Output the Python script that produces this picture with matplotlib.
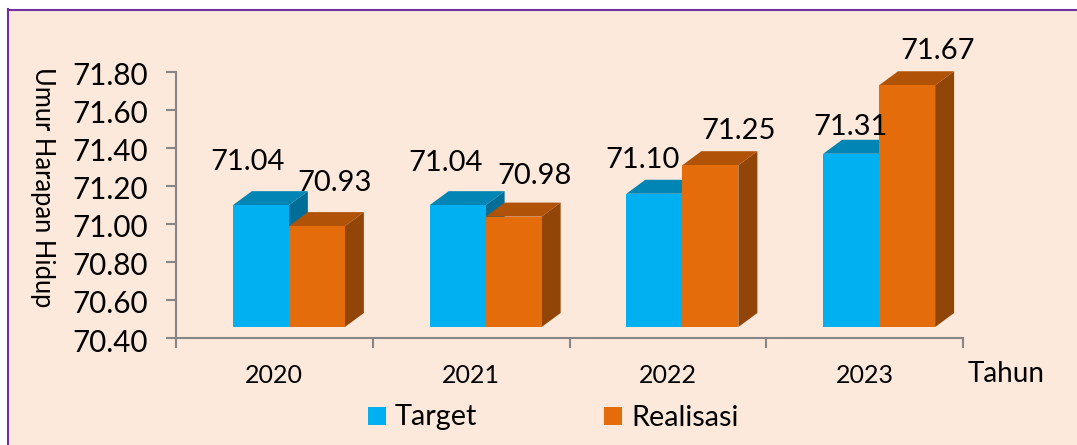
import matplotlib
matplotlib.use("Agg")
import matplotlib.pyplot as plt
from matplotlib.patches import Polygon, Rectangle
from matplotlib.transforms import ScaledTranslation
import numpy as np

# -----------------------------
# Data
# -----------------------------
years = ["2020", "2021", "2022", "2023"]
target = [71.04, 71.04, 71.10, 71.31]
realisasi = [70.93, 70.98, 71.25, 71.67]
y_ticks = [70.40, 70.60, 70.80, 71.00, 71.20, 71.40, 71.60, 71.80]

# label offsets from the bar's top centre, in pixels
target_off = [(-13, 43), (-12, 42), (-12, 34), (-1, 27)]
real_off = [(18, 43), (21, 41), (28, 34), (31, 34)]

BG = "#FDE9DB"
BLUE = ("#00B0F0", "#0085B5", "#006E96")
ORANGE = ("#E46C0A", "#B05208", "#914506")

plt.rcParams["font.family"] = ["Lato", "DejaVu Sans"]

W, H = 1077, 445
fig = plt.figure(figsize=(W / 100, H / 100), dpi=100, facecolor="white")

# panel with purple frame on the left and top
fig.add_artist(Rectangle((8 / W, 0), 1, 1 - 10 / H, transform=fig.transFigure,
                         facecolor=BG, edgecolor="none", zorder=-2))
fig.add_artist(plt.Line2D([8 / W, 8 / W], [0, 1 - 9 / H], color="#7030A0", lw=1.5, zorder=-1))
fig.add_artist(plt.Line2D([8 / W, 1], [1 - 9.5 / H, 1 - 9.5 / H], color="#7030A0", lw=1.5, zorder=-1))

ax = fig.add_axes([176 / W, 1 - 338 / H, 787 / W, 266.5 / H])
ax.patch.set_alpha(0)
ax.set_xlim(-0.5, 3.5)
ax.set_ylim(70.40, 71.80)

# 3D look, sizes converted from pixels to data units
px_x = 4 / 787
px_y = 1.4 / 266.5
bar_w = 56 * px_x
depth_x = 19 * px_x
depth_y = 14 * px_y
front_x = -41.5 * px_x
front_y = 11 * px_y


def draw_bar(x0, val, cols):
    y0 = 70.40 + front_y
    y1 = val + front_y
    x1 = x0 + bar_w
    ax.add_patch(Polygon([(x1, y0), (x1 + depth_x, y0 + depth_y), (x1 + depth_x, y1 + depth_y), (x1, y1)],
                         facecolor=cols[2], edgecolor="none", clip_on=False, zorder=3))
    ax.add_patch(Polygon([(x0, y1), (x1, y1), (x1 + depth_x, y1 + depth_y), (x0 + depth_x, y1 + depth_y)],
                         facecolor=cols[1], edgecolor="none", clip_on=False, zorder=3))
    ax.add_patch(Rectangle((x0, y0), bar_w, val - 70.40, facecolor=cols[0], edgecolor="none",
                           clip_on=False, zorder=3))


for i in range(len(years)):
    x0 = i + front_x
    draw_bar(x0, target[i], BLUE)
    draw_bar(x0 + bar_w, realisasi[i], ORANGE)
    ax.annotate(f"{target[i]:.2f}", (x0 + bar_w / 2, target[i] + front_y), xytext=target_off[i],
                textcoords="offset pixels", ha="center", va="center", fontsize=21, color="black",
                zorder=5, annotation_clip=False)
    ax.annotate(f"{realisasi[i]:.2f}", (x0 + bar_w * 1.5, realisasi[i] + front_y), xytext=real_off[i],
                textcoords="offset pixels", ha="center", va="center", fontsize=21, color="black",
                zorder=5, annotation_clip=False)

# axes
for s in ["top", "right"]:
    ax.spines[s].set_visible(False)
for s in ["left", "bottom"]:
    ax.spines[s].set_color("#868686")
    ax.spines[s].set_linewidth(1.5)

ax.set_yticks(y_ticks)
ax.set_yticklabels([f"{v:.2f}" for v in y_ticks], fontsize=21.3)
ax.set_xticks(np.arange(-0.5, 4, 1))
ax.set_xticklabels([])
ax.set_xticks(np.arange(len(years)), minor=True)
ax.set_xticklabels(years, minor=True, fontsize=18)
ax.tick_params(axis="x", which="minor", length=0, pad=19)
ax.tick_params(axis="x", which="major", length=7, width=1.5, color="#868686")
ax.tick_params(axis="y", length=7, width=1.5, color="#868686", pad=13)

# nudge y labels down a little
for lab in ax.get_yticklabels():
    lab.set_transform(lab.get_transform() + ScaledTranslation(0, -2 / 100, fig.dpi_scale_trans))

fig.text(42 / W, 1 - 187 / H, "Umur Harapan Hidup", rotation=270, ha="center", va="center", fontsize=18.4)
fig.text(1006 / W, 1 - 374 / H, "Tahun", ha="center", va="center", fontsize=20)

# legend
for name, col, sq_x in [("Target", BLUE[0], 368), ("Realisasi", ORANGE[0], 604)]:
    fig.add_artist(Rectangle((sq_x / W, 1 - 425 / H), 18 / W, 18 / H, transform=fig.transFigure,
                             facecolor=col, edgecolor="none"))
    fig.text((sq_x + 27) / W, 1 - 417.5 / H, name, ha="left", va="center", fontsize=20.8)

fig.savefig("out.png", dpi=100, facecolor=fig.get_facecolor())
